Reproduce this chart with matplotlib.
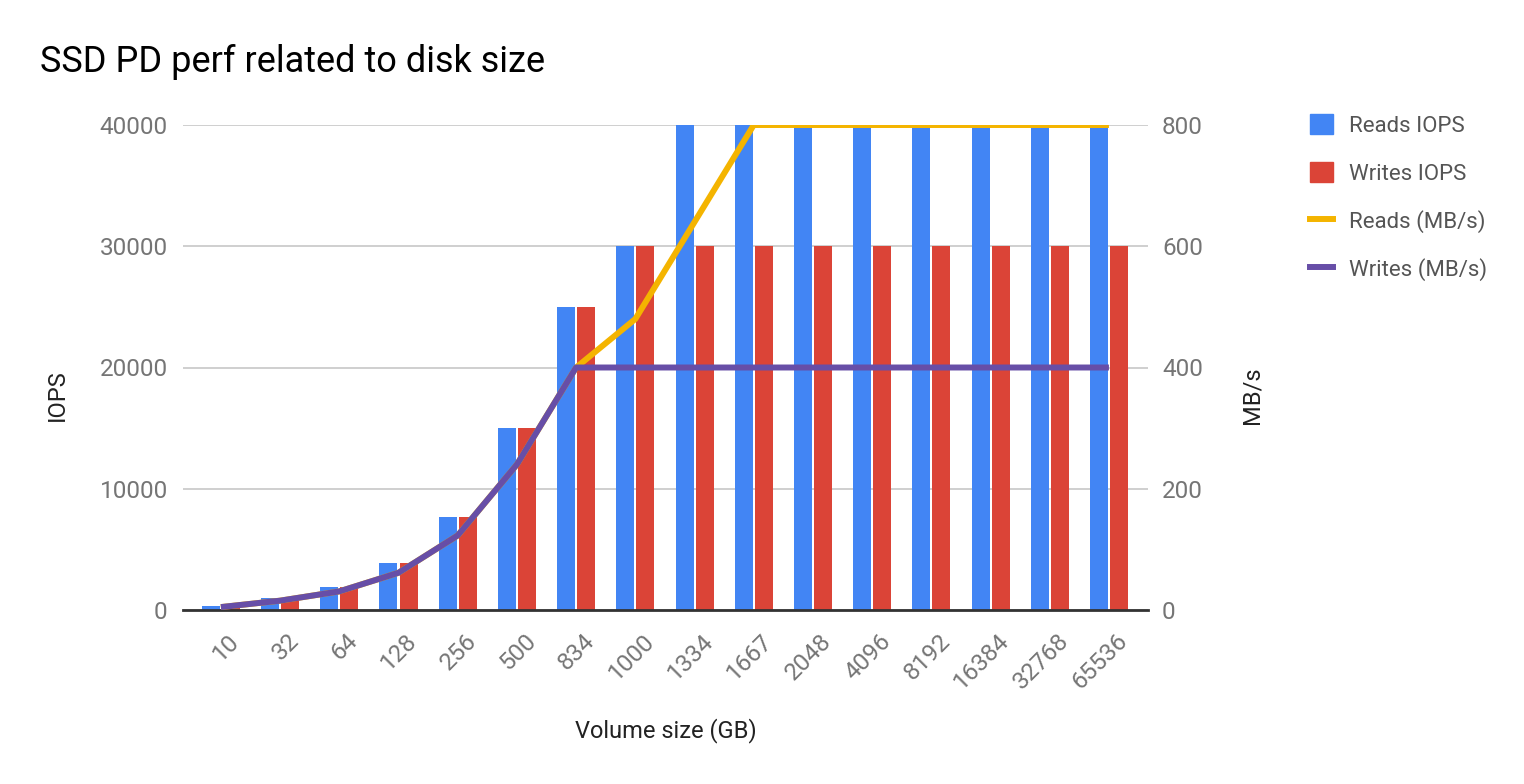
import matplotlib.pyplot as plt
import numpy as np
from matplotlib.patches import Patch
from matplotlib.lines import Line2D

plt.rcParams['font.family'] = ['Roboto', 'DejaVu Sans']

sizes = ['10', '32', '64', '128', '256', '500', '834', '1000', '1334',
         '1667', '2048', '4096', '8192', '16384', '32768', '65536']
reads_iops = [300, 960, 1920, 3840, 7680, 15000, 25020, 30000, 40000,
              40000, 40000, 40000, 40000, 40000, 40000, 40000]
writes_iops = [300, 960, 1920, 3840, 7680, 15000, 25020, 30000, 30000,
               30000, 30000, 30000, 30000, 30000, 30000, 30000]
reads_mbs = [4.8, 15.4, 30.7, 61.4, 122.9, 240, 400, 480, 640,
             800, 800, 800, 800, 800, 800, 800]
writes_mbs = [4.8, 15.4, 30.7, 61.4, 122.9, 240, 400, 400, 400,
              400, 400, 400, 400, 400, 400, 400]

blue = '#4285F4'
red = '#DB4437'
yellow = '#F4B400'
purple = '#674EA7'
grey = '#757575'
dark = '#222222'

fig = plt.figure(figsize=(15.24, 7.84), dpi=100)
ax = fig.add_axes([183 / 1524, 1 - 610 / 784, 965 / 1524, 485 / 784])
ax2 = ax.twinx()

x = np.arange(len(sizes))
w = 0.304
gap = 0.034
ax.bar(x - w / 2 - gap / 2, reads_iops, w, color=blue, zorder=2)
ax.bar(x + w / 2 + gap / 2, writes_iops, w, color=red, zorder=2)

ax2.plot(x, reads_mbs, color=yellow, lw=4.3, solid_capstyle='butt', zorder=3)
ax2.plot(x, writes_mbs, color=purple, lw=4.3, solid_capstyle='butt', zorder=4)

ax.set_xlim(-0.64, len(sizes) - 0.34)
ax.set_ylim(0, 40000)
ax2.set_ylim(0, 800)
ax.set_yticks([0, 10000, 20000, 30000, 40000])
ax2.set_yticks([0, 200, 400, 600, 800])
ax.yaxis.grid(True, color='#cccccc', lw=1.3, zorder=0)
ax.set_axisbelow(True)

for a in (ax, ax2):
    for s in a.spines.values():
        s.set_visible(False)
    a.tick_params(length=0, labelsize=17.5, labelcolor=grey)
ax.spines['bottom'].set_visible(True)
ax.spines['bottom'].set_color('#333333')
ax.spines['bottom'].set_linewidth(2)
ax.spines['bottom'].set_zorder(5)

ax.set_xticks(x + 0.12)
ax.set_xticklabels(sizes, rotation=45, ha='right', rotation_mode='anchor')
ax.tick_params(axis='x', pad=14)
ax.tick_params(axis='y', pad=11)
ax2.tick_params(axis='y', pad=10)

ax.set_ylabel('IOPS', fontsize=17, color=dark, va='center')
ax.yaxis.set_label_coords(-0.1306, 0.443)
ax2.set_ylabel('MB/s', fontsize=17, color=dark, va='center')
ax2.yaxis.set_label_coords(1.108, 0.443)
ax.set_xlabel('Volume size (GB)', fontsize=17, color=dark, va='center')
ax.xaxis.set_label_coords(0.5005, -0.249)

fig.text(40 / 1524, 1 - 62 / 784, 'SSD PD perf related to disk size',
         fontsize=26, color='black', va='center')

handles = [Patch(color=blue), Patch(color=red),
           Line2D([], [], color=yellow, lw=4.3),
           Line2D([], [], color=purple, lw=4.3)]
labels = ['Reads IOPS', 'Writes IOPS', 'Reads (MB/s)', 'Writes (MB/s)']
fig.legend(handles, labels, loc='upper left',
           bbox_to_anchor=(1310 / 1524, 1 - 114 / 784),
           frameon=False, fontsize=16, labelcolor='#555555',
           handlelength=1.04, handleheight=1.04, labelspacing=1.13,
           handletextpad=0.72, borderpad=0, borderaxespad=0)

fig.savefig('out.png', dpi=100)
